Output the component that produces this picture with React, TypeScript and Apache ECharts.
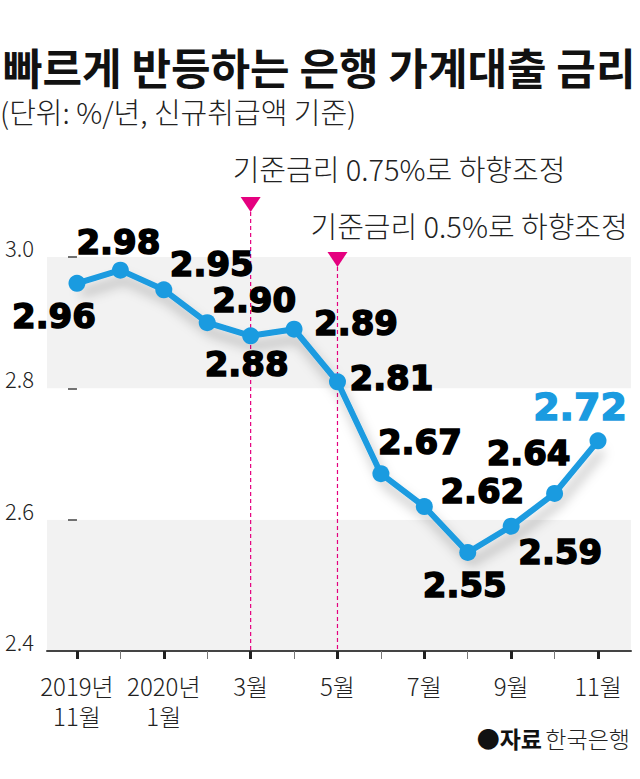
import React, { useEffect, useRef } from "react";
import * as echarts from "echarts";

// ---- data ----
const months = ["11월", "12월", "1월", "2월", "3월", "4월", "5월", "6월", "7월", "8월", "9월", "10월", "11월"];
const years = ["2019년", "", "2020년", "", "", "", "", "", "", "", "", "", ""];
const rates = [2.96, 2.98, 2.95, 2.9, 2.88, 2.89, 2.81, 2.67, 2.62, 2.55, 2.59, 2.64, 2.72];
const labelledTicks = [0, 2, 4, 6, 8, 10, 12];
const minorTicks = [1, 3, 5, 7, 9, 11];
const yearTicks = [0, 2];
const yMin = 2.4;
const yMax = 3.0;
const yStep = 0.2;
const titleText = "빠르게 반등하는 은행 가계대출 금리";
const subtitleText = "(단위: %/년, 신규취급액 기준)";
const sourceLabel = "자료";
const sourceName = "한국은행";
const annotations = [
  { index: 4, text: "기준금리 0.75%로 하향조정" },
  { index: 6, text: "기준금리 0.5%로 하향조정" },
];

// ---- layout / style (not data) ----
const labelOffsets = [
  [-23, 33], [-2, -28], [48, -26], [47, -23], [-4, 28], [62, -6], [54, -4],
  [39, -32], [58, -16], [-3, 32], [49, 26], [-26, -40], [-18, -34],
];
const annotationLayout = [
  { triTop: 197, textDx: -18, textY: 168 },
  { triTop: 252, textDx: -27, textY: 225 },
];
const BLUE = "#1a9be0";
const PINK = "#e5007f";
const KR = "'Noto Sans CJK KR', 'Noto Sans', sans-serif";
const NUM = "'DejaVu Sans', sans-serif";

export default function App() {
  const ref = useRef<HTMLDivElement>(null);

  useEffect(() => {
    if (!ref.current) return;
    const chart = echarts.init(ref.current, undefined, { renderer: "svg" });
    const last = rates.length - 1;

    const seriesData = rates.map((v, i) => ({
      value: [i, v],
      label: {
        offset: labelOffsets[i],
        ...(i === last ? { color: BLUE, textBorderColor: BLUE, fontSize: 38 } : {}),
      },
    }));

    const xLabelStyle = {
      fontSize: 24,
      lineHeight: 26,
      fontFamily: KR,
      fontWeight: 300,
      color: "#222",
    };

    chart.setOption({
      animation: false,
      title: [
        {
          text: titleText,
          left: 3,
          top: 44,
          padding: 0,
          textStyle: { fontSize: 43, lineHeight: 44, fontWeight: "bold", fontFamily: KR, color: "#111" },
        },
        {
          text: subtitleText,
          left: 0,
          top: 96,
          padding: 0,
          textStyle: { fontSize: 29, lineHeight: 30, fontWeight: 300, fontFamily: KR, color: "#222" },
        },
      ],
      grid: { left: 47, right: 9, top: 257, bottom: 128, containLabel: false },
      xAxis: [
        {
          type: "value",
          min: -0.69,
          max: 12.76,
          splitLine: { show: false },
          axisLine: { show: true, lineStyle: { color: "#444", width: 2 } },
          axisTick: {
            show: true,
            customValues: labelledTicks,
            length: 8,
            lineStyle: { color: "#222", width: 3 },
          },
          axisLabel: {
            customValues: labelledTicks,
            formatter: (v: number) => {
              const i = Math.round(v);
              return years[i] || months[i] || "";
            },
            ...xLabelStyle,
            margin: 21,
          },
        },
        {
          type: "value",
          min: -0.69,
          max: 12.76,
          position: "bottom",
          splitLine: { show: false },
          axisLine: { show: false },
          axisTick: {
            show: true,
            customValues: minorTicks,
            length: 8,
            lineStyle: { color: "#777", width: 1 },
          },
          axisLabel: {
            customValues: yearTicks,
            formatter: (v: number) => months[Math.round(v)] || "",
            ...xLabelStyle,
            margin: 51,
          },
        },
      ],
      yAxis: {
        type: "value",
        min: yMin,
        max: yMax,
        interval: yStep,
        axisLine: { show: false },
        axisTick: { show: true, length: 9, lineStyle: { color: "#444", width: 1.5 } },
        splitLine: { show: false },
        splitArea: { show: true, areaStyle: { color: ["#f2f2f2", "#ffffff"] } },
        axisLabel: {
          formatter: (v: number) => v.toFixed(1),
          fontSize: 22,
          lineHeight: 20,
          fontFamily: KR,
          fontWeight: 300,
          color: "#222",
          margin: 13,
          verticalAlign: "bottom",
        },
      },
      series: [
        {
          type: "line",
          xAxisIndex: 0,
          yAxisIndex: 0,
          data: seriesData,
          symbol: "circle",
          symbolSize: 17,
          clip: false,
          lineStyle: {
            color: BLUE,
            width: 6,
            shadowColor: "rgba(0,0,0,0.28)",
            shadowBlur: 12,
            shadowOffsetX: 4,
            shadowOffsetY: 10,
          },
          itemStyle: { color: BLUE },
          label: {
            show: true,
            position: "inside",
            formatter: (p: any) => p.value[1].toFixed(2),
            fontFamily: NUM,
            fontWeight: "bold",
            fontSize: 34,
            color: "#000",
            textBorderColor: "#000",
            textBorderWidth: 1.5,
          },
          emphasis: { disabled: true },
          z: 5,
        },
      ],
    });

    const graphics: any[] = [];
    annotations.forEach((a, k) => {
      const lay = annotationLayout[k];
      const [x, yBase] = chart.convertToPixel({ xAxisIndex: 0, yAxisIndex: 0 }, [a.index, yMin]) as number[];
      const tip = lay.triTop + 15;
      graphics.push({
        type: "line",
        z: 1,
        shape: { x1: x, y1: tip, x2: x, y2: yBase },
        style: { stroke: PINK, lineWidth: 1.2, lineDash: [4, 3] },
      });
      graphics.push({
        type: "polygon",
        z: 1,
        shape: { points: [[x - 10, lay.triTop], [x + 10, lay.triTop], [x, tip]] },
        style: { fill: PINK },
      });
      graphics.push({
        type: "text",
        z: 1,
        x: x + lay.textDx,
        y: lay.textY,
        style: {
          text: a.text,
          fontSize: 29,
          fontWeight: 300,
          fontFamily: KR,
          fill: "#222",
          verticalAlign: "middle",
        },
      });
    });
    graphics.push({
      type: "text",
      right: 10,
      top: 726,
      style: {
        text: `{b|●${sourceLabel}} {n|${sourceName}}`,
        rich: {
          b: { fontSize: 23, fontWeight: "bold", fontFamily: KR, fill: "#111" },
          n: { fontSize: 23, fontWeight: 300, fontFamily: KR, fill: "#222" },
        },
      },
    });
    chart.setOption({ graphic: graphics });

    return () => chart.dispose();
  }, []);

  return (
    <div
      ref={ref}
      style={{ position: "absolute", left: 0, top: 0, width: 640, height: 779, background: "#fff" }}
    />
  );
}
